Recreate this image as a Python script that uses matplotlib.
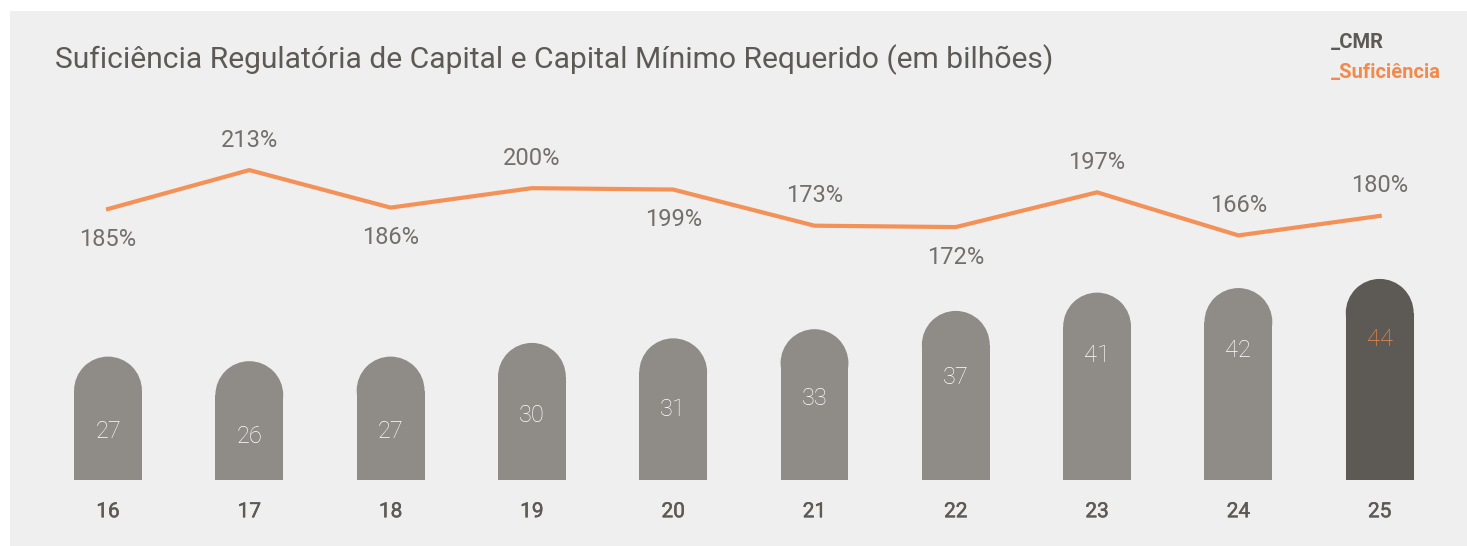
import matplotlib
matplotlib.use("Agg")
import matplotlib.pyplot as plt
import matplotlib.patheffects as pe
from matplotlib.patches import Ellipse, Rectangle

# dados
anos = ["16", "17", "18", "19", "20", "21", "22", "23", "24", "25"]
cmr = [27, 26, 27, 30, 31, 33, 37, 41, 42, 44]
suficiencia = [185, 213, 186, 200, 199, 173, 172, 197, 166, 180]
lado_rotulo = ["baixo", "cima", "baixo", "cima", "baixo", "cima", "baixo", "cima", "cima", "cima"]

cor_fundo = "#efefef"
cor_barra = "#8f8b87"
cor_barra_destaque = "#5d5954"
cor_linha = "#f39158"
cor_laranja = "#f28a4b"
cor_texto = "#5d5954"
cor_pct = "#736f6a"

plt.rcParams["font.family"] = ["Roboto", "DejaVu Sans"]

W, H = 14.67, 5.46
fig = plt.figure(figsize=(W, H), dpi=100)
fig.patch.set_facecolor("white")
fig.patches.append(Rectangle((10 / 1467, 0), 1, 1 - 11 / 546, transform=fig.transFigure,
                             facecolor=cor_fundo, edgecolor="none", zorder=-10))

# eixo: base em y=480px, topo em y=100px
ax = fig.add_axes([0, 66 / 546, 1, 380 / 546])
ax.set_facecolor("none")
passo_px = 141.3
px_por_unid = 4.57
ax.set_xlim(-108 / passo_px, (1467 - 108) / passo_px)
ax.set_ylim(0, 380 / px_por_unid)

largura = 0.48
raio = (largura / 2) * passo_px / px_por_unid
xs = list(range(len(anos)))
for i, v in enumerate(cmr):
    cor = cor_barra_destaque if i == len(cmr) - 1 else cor_barra
    ax.bar(i, v - raio, width=largura, color=cor, linewidth=0)
    ax.add_patch(Ellipse((i, v - raio), largura, 2 * raio, facecolor=cor, edgecolor="none"))
    cor_txt = cor_laranja if i == len(cmr) - 1 else "white"
    ax.text(i, v * 1.18 - 21.2, str(v), ha="center", va="center", fontsize=17,
            color=cor_txt, fontweight="light")

ax.set_xticks(xs, anos)
ax.tick_params(axis="x", length=0, pad=16, labelsize=15, labelcolor=cor_texto)
for lb in ax.get_xticklabels():
    lb.set_path_effects([pe.withStroke(linewidth=0.35, foreground=cor_texto)])
ax.set_yticks([])
for s in ax.spines.values():
    s.set_visible(False)

# linha de suficiência
ax2 = ax.twinx()
ax2.set_ylim(185 - 271 / 1.39, 185 + 109 / 1.39)
ax2.plot(xs, suficiencia, color=cor_linha, linewidth=3, solid_joinstyle="miter")
for i, v in enumerate(suficiencia):
    off = -21.6 if lado_rotulo[i] == "baixo" else 21.6
    ax2.annotate(f"{v}%", (i, v), xytext=(0, off), textcoords="offset points",
                 ha="center", va="center", fontsize=17, color=cor_pct)
ax2.set_yticks([])
for s in ax2.spines.values():
    s.set_visible(False)

fig.text(55 / 1467, 1 - 60 / 546, "Suficiência Regulatória de Capital e Capital Mínimo Requerido (em bilhões)",
         ha="left", va="center", fontsize=21.6, color=cor_texto)
fig.text(1331 / 1467, 1 - 43 / 546, "_CMR", ha="left", va="center", fontsize=14.5,
         color=cor_texto, fontweight="bold")
fig.text(1331 / 1467, 1 - 72 / 546, "_Suficiência", ha="left", va="center", fontsize=14.5,
         color=cor_laranja, fontweight="bold")

fig.savefig("out.png", dpi=100, facecolor=fig.get_facecolor())
